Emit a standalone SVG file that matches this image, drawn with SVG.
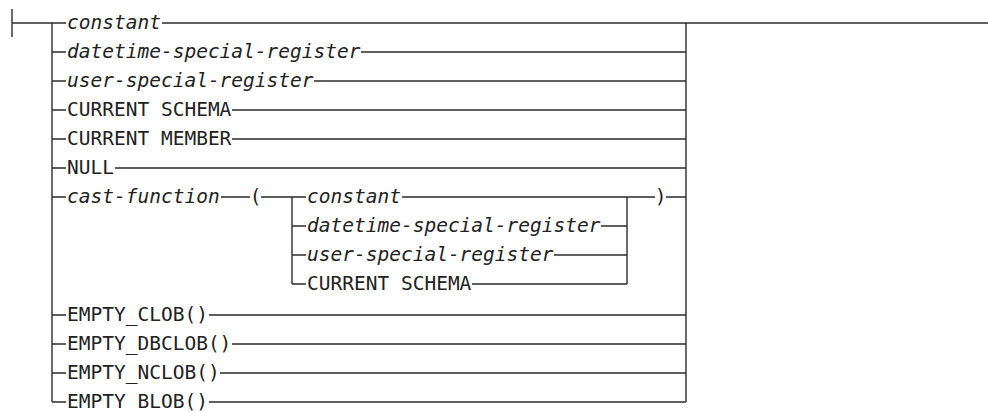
<svg xmlns="http://www.w3.org/2000/svg" width="988" height="412" viewBox="0 0 988 412">
<style>
  .ln { stroke: #2b2b2b; stroke-width: 1.4; fill: none; }
  .t { font-family: "DejaVu Sans Mono", "Liberation Mono", monospace; font-size: 19.5px; fill: #222; }
  .v { font-style: italic; }
</style>
<rect width="988" height="412" fill="#fff"/>
<g id="connectors">
  <!-- start bar -->
  <path class="ln" d="M12,9 V37"/>
  <!-- outer left and right verticals -->
  <path class="ln" d="M52,23 V402"/>
  <path class="ln" d="M686,23 V402"/>
  <!-- inner verticals -->
  <path class="ln" d="M292,197 V284"/>
  <path class="ln" d="M627,197 V284"/>
  <!-- row 0 main line -->
  <path class="ln" d="M12,23 H66 M162,23 H988"/>
  <!-- rows left stubs and right runs -->
  <path class="ln" d="M52,52 H66 M361,52 H686"/>
  <path class="ln" d="M52,81 H66 M314,81 H686"/>
  <path class="ln" d="M52,110 H66 M232,110 H686"/>
  <path class="ln" d="M52,139 H66 M232,139 H686"/>
  <path class="ln" d="M52,168 H66 M115,168 H686"/>
  <path class="ln" d="M52,197 H66 M221,197 H250 M261,197 H306 M402,197 H655 M666,197 H686"/>
  <path class="ln" d="M292,226 H306 M601,226 H627"/>
  <path class="ln" d="M292,255 H306 M554,255 H627"/>
  <path class="ln" d="M292,284 H306 M472,284 H627"/>
  <path class="ln" d="M52,315 H66 M209,315 H686"/>
  <path class="ln" d="M52,344 H66 M232,344 H686"/>
  <path class="ln" d="M52,373 H66 M220,373 H686"/>
  <path class="ln" d="M52,402 H66 M209,402 H686"/>
</g>
<g id="n-constant"><text class="t v" x="67" y="29">constant</text></g>
<g id="n-datetime"><text class="t v" x="67" y="58">datetime-special-register</text></g>
<g id="n-user"><text class="t v" x="67" y="87">user-special-register</text></g>
<g id="n-current-schema"><text class="t" x="67" y="116">CURRENT SCHEMA</text></g>
<g id="n-current-member"><text class="t" x="67" y="145">CURRENT MEMBER</text></g>
<g id="n-null"><text class="t" x="67" y="174">NULL</text></g>
<g id="n-cast-function"><text class="t v" x="67" y="203">cast-function</text></g>
<g id="n-lparen"><text class="t" x="255.5" y="203" text-anchor="middle">(</text></g>
<g id="n-inner-constant"><text class="t v" x="307" y="203">constant</text></g>
<g id="n-inner-datetime"><text class="t v" x="307" y="232">datetime-special-register</text></g>
<g id="n-inner-user"><text class="t v" x="307" y="261">user-special-register</text></g>
<g id="n-inner-current-schema"><text class="t" x="307" y="290">CURRENT SCHEMA</text></g>
<g id="n-rparen"><text class="t" x="660.5" y="203" text-anchor="middle">)</text></g>
<g id="n-empty-clob"><text class="t" x="67" y="321">EMPTY_CLOB()</text></g>
<g id="n-empty-dbclob"><text class="t" x="67" y="350">EMPTY_DBCLOB()</text></g>
<g id="n-empty-nclob"><text class="t" x="67" y="379">EMPTY_NCLOB()</text></g>
<g id="n-empty-blob"><text class="t" x="67" y="408">EMPTY_BLOB()</text></g>
</svg>
